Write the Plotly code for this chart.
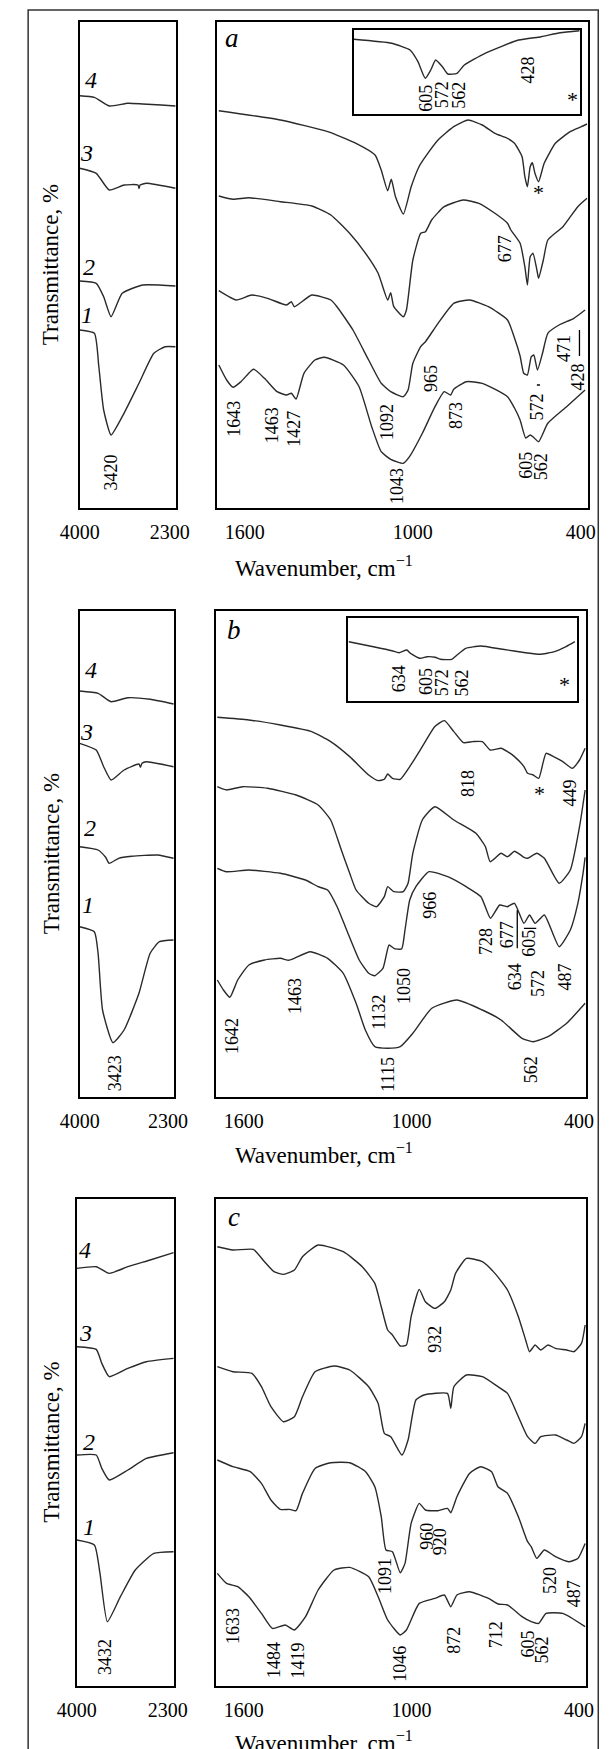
import plotly.graph_objects as go

# ---------------- DATA (wavenumber, cm-1 ; transmittance, arbitrary offset units) ----------------
# Panel a, right part (1700-375 cm-1), curves 4..1 (top to bottom)
A4_W = [1693,1473,1304,1203,1135,1113,1090,1077,1062,1034,1006,978,955,910,854,803,752,707,662,637,610,600,591,581,573,564,551,531,491,438,398,378]
A4_T = [397.3,388,376.3,364.7,353,338,317.3,328.7,311.3,294,321.3,341.3,351.3,368,381.3,388,383,374.7,369.7,364.7,351.3,331.3,321.3,341.3,345.3,334.7,326.3,344.7,364.7,376.3,381.3,384]
A3_W = [1693,1642,1586,1473,1361,1293,1226,1169,1124,1090,1079,1068,1034,1023,1000,972,955,933,888,820,764,707,662,650,617,600,591,581,571,557,551,534,518,464,411,378]
A3_T = [312,308.7,310.3,306.3,302,293,274.7,254.7,234.7,208,215.3,201.3,191.3,198,248,274.7,276.3,288,301.3,308,304.7,294.7,284.7,278,264.7,241.3,223,251.3,254.7,238,229.7,248,268,281.3,301.3,309.7]
A2_W = [1693,1631,1575,1519,1451,1434,1423,1361,1293,1271,1214,1158,1113,1079,1034,1017,1000,972,955,910,854,797,730,662,637,617,604,591,577,568,555,537,518,478,425,385]
A2_T = [217.3,208,213,209.7,203,206.3,201.3,213,208,201.3,178,148,124.7,116.3,111.3,118,144.7,161.3,166.3,184.7,204.7,208,201.3,188,170,152,134.7,133,151.3,153,138,154.7,174.7,183,189.7,198]
A1_W = [1693,1665,1642,1614,1569,1530,1485,1451,1434,1417,1389,1350,1316,1248,1192,1147,1113,1079,1034,1012,966,921,888,865,854,809,752,662,637,617,597,581,570,551,518,451,385]
A1_T = [143,128,120.7,126.3,138.7,129.7,116.3,113,114.7,109,134.7,148,150.7,143,121.3,81.3,56.3,48.7,44.7,51.3,74.7,101.3,116.3,113,118.7,126.3,124.7,111.3,100,88,70,73,71,66.3,84.7,101.3,118]
# Panel a, left part (4000-2180 cm-1)
AL4_W = [4000,3722,3442,3091,2811,2461,2194]
AL4_T = [412.3,410.7,402,404.7,404,403,402]
AL3_W = [4000,3687,3442,3161,2900,2881,2860,2741,2194]
AL3_T = [339.7,334.7,318,323,323,319.5,323,324.7,319.7]
AL2_W = [4000,3687,3547,3407,3197,2811,2194]
AL2_T = [227,224.7,211.3,191.3,214.7,223,222]
AL1_W = [4000,3722,3638,3547,3407,3197,2881,2601,2391,2194]
AL1_T = [178,174.7,141.3,98,73,91.3,124.7,154.7,161.3,161.3]
# Panel a inset
IA_W = [722,660,630,617,605,596,588,577,568,553,541,507,452,415,384,352]
IA_T = [75,71,64.3,52.6,36,44.3,54.3,47.6,40.3,41,49.3,61,74.3,77.6,81.6,83.6]

# Panel b, right part
B4_W = [1695,1582,1469,1357,1289,1221,1153,1119,1097,1085,1068,1040,1006,961,916,882,848,814,780,746,718,679,656,631,597,584,564,544,518,491,458,424,398,378]
B4_T = [380,377.3,372.3,365.7,355.7,340.7,322.3,316.7,318,323.3,319,318,330.7,350.7,370.7,376.7,365.7,354.7,355.7,355.7,347.3,349,345.7,340.7,330.7,324,322.3,319,344,340.7,335.7,329,337.3,349]
B3_W = [1695,1662,1605,1515,1413,1334,1289,1255,1221,1198,1153,1125,1097,1085,1063,1029,1012,995,961,916,848,769,735,718,679,656,631,617,597,584,551,524,471,431,398,378]
B3_T = [310.6,307.3,310.6,309,302.3,292.3,277.3,250.6,224,207.3,194,190.6,200.6,210.6,205.6,205.6,214,244,277.3,290.6,277.3,264,250.6,235.6,244,240.6,246,244,240,239,244,239,214,227.3,270.6,307.3]
B2_W = [1695,1662,1582,1469,1379,1334,1300,1266,1232,1187,1153,1131,1102,1080,1063,1035,1023,1006,984,937,870,804,751,717,684,657,631,597,577,557,524,471,431,404,385,378]
B2_T = [229,225.6,227.3,224,217.3,210.6,207.3,190.6,167.3,137.3,124,121.6,129,152.3,149,148.3,167.3,197.3,210.6,225.6,220.6,210.6,200.6,179,192.3,190.6,194,174,182.3,174,182.3,150.6,167.3,194,225,240]
B1_W = [1695,1673,1650,1622,1582,1526,1469,1440,1419,1362,1300,1244,1198,1165,1131,1085,1040,995,927,837,746,679,604,564,511,444,378]
B1_T = [117.3,107.3,100,117.3,132.3,137.3,139,137,139,145.6,139,124,94,67.3,50.6,49,50.6,64,89,97.3,87.3,77.3,59,55.6,60.6,74,94]
# Panel b, left part
BL4_W = [4000,3645,3395,3073,2644,2194]
BL4_T = [406.3,404,395.6,399.6,398,393.3]
BL3_W = [4000,3681,3538,3395,3145,2859,2830,2800,2716,2194]
BL3_T = [354,347.3,330.6,317.3,327.3,333.3,330,334,335.6,330.6]
BL2_W = [4000,3645,3500,3431,3250,3000,2500,2194]
BL2_T = [250.6,247.3,240,234,239,241,242.3,239]
BL1_W = [4000,3717,3645,3559,3359,3145,2859,2644,2465,2194]
BL1_T = [170.6,165.6,144,87.3,54.6,67.3,104,144,155.6,157.3]
# Panel b inset
IB_W = [692,664,643,635,626,622,611,603,594,588,575,569,559,542,517,491,475,458,445,435]
IB_T = [59,54,50,48,50.7,47.4,42.4,44,43.4,41.4,41.4,45.7,52.4,54.7,51.4,48,46.4,49,54,59]

# Panel c, right part
C4_W = [1695,1639,1566,1526,1492,1458,1419,1390,1334,1244,1176,1131,1108,1085,1068,1040,1018,1001,972,950,916,882,859,842,803,746,701,656,617,591,577,557,537,511,484,444,418,391,378]
C4_T = [439,435.7,436.3,424,414,411.3,415.7,429,440.7,434,419,402.3,379,355.7,350.7,339.7,340.7,369,396.3,384,377.3,384,395.7,412.3,427.3,424,412.3,395.7,369,345.7,334,340.7,335.7,340.7,337.3,335.7,334,342.3,360.7]
C3_W = [1695,1639,1571,1537,1503,1458,1419,1390,1345,1277,1221,1153,1119,1097,1074,1034,1012,984,955,871,859,848,803,746,690,656,617,584,557,537,484,444,418,391,378]
C3_T = [319,314,312.3,299,279,264,269,289,314,319.7,315.7,299,282.3,252.3,249,230.7,245.7,285.7,290.7,292.3,277.3,299,310.7,309,299,292.3,269,249,242.3,249,250.7,245.7,242.3,249,262.3]
C2_W = [1695,1639,1577,1537,1503,1469,1436,1413,1390,1345,1289,1221,1164,1131,1108,1091,1068,1040,1023,1001,972,950,905,871,859,837,792,752,713,690,656,617,584,571,551,524,484,437,404,378]
C2_T = [225.7,219,214,202.3,185.7,176.3,176.3,175,192.3,217.3,223,223,214,199,169,135.7,134,113,122.3,162.3,182.3,175.7,175,177.3,173,189,212.3,219,214,199,192.3,169,144,139,127.3,135.7,129,124,127.3,142.3]
C1_W = [1695,1662,1622,1582,1537,1498,1452,1419,1379,1334,1277,1221,1153,1119,1085,1040,1018,972,916,882,859,837,792,724,690,656,604,571,544,518,458,378]
C1_T = [112.3,102.3,99,89,72.3,57.3,60.7,55.7,69,95.7,115.7,118.3,109,89,65.7,50.7,55.7,82.3,87.3,90.7,79,90.7,94,87.3,81.7,80.7,69,64,62.3,72.3,72.3,59]
# Panel c, left part
CL4_W = [4000,3637,3394,3047,2630,2193]
CL4_T = [417.3,419,412.3,419,425.7,433]
CL3_W = [4000,3637,3533,3394,3047,2700,2193]
CL3_T = [339,336.3,322.3,309,317.3,324,327.3]
CL2_W = [4000,3637,3533,3394,3047,2700,2193]
CL2_T = [230.7,230.7,217.3,205.7,215.7,227.3,233]
CL1_W = [4000,3672,3567,3429,3186,2908,2561,2193]
CL1_T = [145.7,140.7,112.3,64,89,115.7,132.3,134]

# Peak labels (text, wavenumber, transmittance position)
A_LAB = ["1643","1463","1427","1092","1043","965","873","677","572","605","562","471","428"]
A_LAB_W = [1637,1502,1423,1090,1059,933,848,670,557,597,544,458,411]
A_LAB_T = [89.7,83,79.7,85.7,22.3,129.7,92.3,259,101.3,43,41.3,159.7,131.3]
B_LAB = ["1642","1463","1132","1050","1115","966","728","677","634","605","572","487","562","818","449"]
B_LAB_W = [1645,1419,1114,1029,1085,933,735,657,631,577,544,451,571,795,431]
B_LAB_T = [61.6,101.6,85,111.6,23.3,191.6,155.6,162.3,120.6,154,114,120.6,27.3,314,304]
C_LAB = ["932","960","920","1091","1633","1484","1419","1046","872","712","520","487","605","562"]
C_LAB_W = [916,944,899,1097,1641,1492,1407,1040,848,696,504,418,584,531]
C_LAB_T = [346.7,149,144,110,60,25.7,25,22.3,45.7,50.7,105.7,92.3,41.7,35.7]
OH_LAB = ["3420","3423","3432"]
OH_LAB_W = [3407,3323,3463]
OH_LAB_T = [35.7,24,28.3]
IA_LAB = ["605","572","562","428"]
IA_LAB_W = [603,577,550,436]
IA_LAB_T = [16,19.3,19.3,44.3]
IB_LAB = ["634","605","572","562"]
IB_LAB_W = [635,605,586,563]
IB_LAB_T = [22.4,19,17.4,17.4]
STAR_W = [551,540,363,447]
STAR_T = [315.3,304,14.3,15.7]

CURVE_NUMS = ["4","3","2","1"]
PANEL_LETTERS = ["a","b","c"]
LEFT_TICKS = [4000, 2300]
RIGHT_TICKS = [1600, 1000, 400]

# ---------------- LAYOUT HELPERS ----------------
W, H = 616, 1749
FONT = "Liberation Serif"
LINE = "#2a2a2a"

def px(x):
    return x / W

def py(y):
    return 1 - y / H

fig = go.Figure()

def ax_id(i):
    return "" if i == 1 else str(i)

def add_curve(w, t, i):
    fig.add_trace(go.Scatter(x=w, y=t, mode="lines",
                             line=dict(color=LINE, width=1.4, shape="spline", smoothing=0.5),
                             xaxis="x" + ax_id(i), yaxis="y" + ax_id(i),
                             showlegend=False, hoverinfo="skip"))

# axis geometry (pixels): (x0, x1, ytop, ybottom, xrange, yrange, ticks)
AXES = {
    1: (63, 165, 21.7, 508, [4000, 2180], [0, 486.3], LEFT_TICKS),
    2: (208, 600, 21.7, 508, [1700, 375], [0, 486.3], RIGHT_TICKS),
    3: (352.8, 591.3, 30, 114.3, [722, 352], [0, 84.3], None),
    4: (63, 163, 610.7, 1097.3, [4000, 2180], [0, 486.6], LEFT_TICKS),
    5: (207, 598, 610.7, 1097.3, [1700, 375], [0, 486.6], RIGHT_TICKS),
    6: (346.5, 588.1, 618.3, 700.7, [693, 433], [0, 82.4], None),
    7: (60, 163, 1199.3, 1685.7, [4000, 2180], [0, 486.4], LEFT_TICKS),
    8: (207, 598, 1199.3, 1685.7, [1700, 375], [0, 486.4], RIGHT_TICKS),
}

layout_axes = {}
for i, (x0, x1, yt, yb, xr, yr, tv) in AXES.items():
    xa = dict(domain=[px(x0), px(x1)], range=xr, anchor="y" + ax_id(i),
              showline=True, mirror=True, linecolor="black", linewidth=1.6,
              showgrid=False, zeroline=False, ticks="", fixedrange=True)
    if tv:
        xa.update(tickvals=tv, ticktext=[str(v) for v in tv],
                  tickfont=dict(family=FONT, size=20, color="black"),
                  ticklabelstandoff=5)
    else:
        xa.update(showticklabels=False)
    ya = dict(domain=[py(yb), py(yt)], range=yr, anchor="x" + ax_id(i),
              showline=True, mirror=True, linecolor="black", linewidth=1.6,
              showgrid=False, zeroline=False, ticks="", showticklabels=False, fixedrange=True)
    layout_axes["xaxis" + ax_id(i)] = xa
    layout_axes["yaxis" + ax_id(i)] = ya

# ---------------- TRACES ----------------
for w, t in [(AL4_W, AL4_T), (AL3_W, AL3_T), (AL2_W, AL2_T), (AL1_W, AL1_T)]:
    add_curve(w, t, 1)
for w, t in [(A4_W, A4_T), (A3_W, A3_T), (A2_W, A2_T), (A1_W, A1_T)]:
    add_curve(w, t, 2)
add_curve(IA_W, IA_T, 3)
for w, t in [(BL4_W, BL4_T), (BL3_W, BL3_T), (BL2_W, BL2_T), (BL1_W, BL1_T)]:
    add_curve(w, t, 4)
for w, t in [(B4_W, B4_T), (B3_W, B3_T), (B2_W, B2_T), (B1_W, B1_T)]:
    add_curve(w, t, 5)
add_curve(IB_W, IB_T, 6)
for w, t in [(CL4_W, CL4_T), (CL3_W, CL3_T), (CL2_W, CL2_T), (CL1_W, CL1_T)]:
    add_curve(w, t, 7)
for w, t in [(C4_W, C4_T), (C3_W, C3_T), (C2_W, C2_T), (C1_W, C1_T)]:
    add_curve(w, t, 8)

# ---------------- ANNOTATIONS ----------------
ann = []

def lab(text, x, y, i, size=18):
    ann.append(dict(text=text, x=x, y=y, xref="x" + ax_id(i), yref="y" + ax_id(i),
                    showarrow=False, textangle=-90, xanchor="center", yanchor="middle",
                    font=dict(family=FONT, size=size, color="black")))

for t, x, y in zip(A_LAB, A_LAB_W, A_LAB_T):
    lab(t, x, y, 2)
for t, x, y in zip(B_LAB, B_LAB_W, B_LAB_T):
    lab(t, x, y, 5)
for t, x, y in zip(C_LAB, C_LAB_W, C_LAB_T):
    lab(t, x, y, 8)
for t, x, y, i in zip(OH_LAB, OH_LAB_W, OH_LAB_T, [1, 4, 7]):
    lab(t, x, y, i)
for t, x, y in zip(IA_LAB, IA_LAB_W, IA_LAB_T):
    lab(t, x, y, 3)
for t, x, y in zip(IB_LAB, IB_LAB_W, IB_LAB_T):
    lab(t, x, y, 6)
for x, y, i in zip(STAR_W, STAR_T, [2, 5, 3, 6]):
    ann.append(dict(text="*", x=x, y=y, xref="x" + ax_id(i), yref="y" + ax_id(i),
                    showarrow=False, font=dict(family=FONT, size=22, color="black")))

def paper_text(text, x, y, size, angle=0):
    ann.append(dict(text=text, x=px(x), y=py(y), xref="paper", yref="paper",
                    showarrow=False, textangle=angle, xanchor="center", yanchor="middle",
                    font=dict(family=FONT, size=size, color="black")))

# curve numbers
NUM_POS = [[(74.6, 80), (70.7, 153), (72.7, 266.7), (70.7, 315)],
           [(74.6, 670), (70, 731.7), (73.5, 828.3), (72, 905)],
           [(68.7, 1250), (68.7, 1333.3), (72.7, 1441.7), (72.7, 1526.7)]]
for pos in NUM_POS:
    for n, (x, y) in zip(CURVE_NUMS, pos):
        paper_text("<i>" + n + "</i>", x, y, 24)
# panel letters
for L, (x, y) in zip(PANEL_LETTERS, [(224, 38), (226, 630), (226, 1216.7)]):
    paper_text("<i>" + L + "</i>", x, y, 27)
# axis titles
for y in [265, 854, 1442.5]:
    paper_text("Transmittance, %", 33, y, 23, angle=-90)
for y in [566.7, 1153, 1741.7]:
    paper_text("Wavenumber, cm<sup>\u22121</sup>", 321, y, 23)

# ---------------- SHAPES ----------------
shapes = [dict(type="rect", xref="paper", yref="paper", x0=px(8.6), x1=px(611), y0=py(1765), y1=py(10),
               line=dict(color="#333333", width=1.5))]

def seg(x0, y0, x1, y1, i):
    shapes.append(dict(type="line", xref="x" + ax_id(i), yref="y" + ax_id(i),
                       x0=x0, y0=y0, x1=x1, y1=y1, line=dict(color="black", width=1.3)))

seg(405, 152, 405, 178, 2)     # 471 marker
seg(557, 123, 546, 123, 2)     # 572 dash
seg(621, 149, 621, 187, 5)     # 677 / 634 marker
seg(597, 169, 553, 169, 5)     # 605 marker

fig.update_layout(width=W, height=H, margin=dict(l=0, r=0, t=0, b=0),
                  paper_bgcolor="white", plot_bgcolor="white",
                  annotations=ann, shapes=shapes, **layout_axes)

fig.write_html("out.html")
